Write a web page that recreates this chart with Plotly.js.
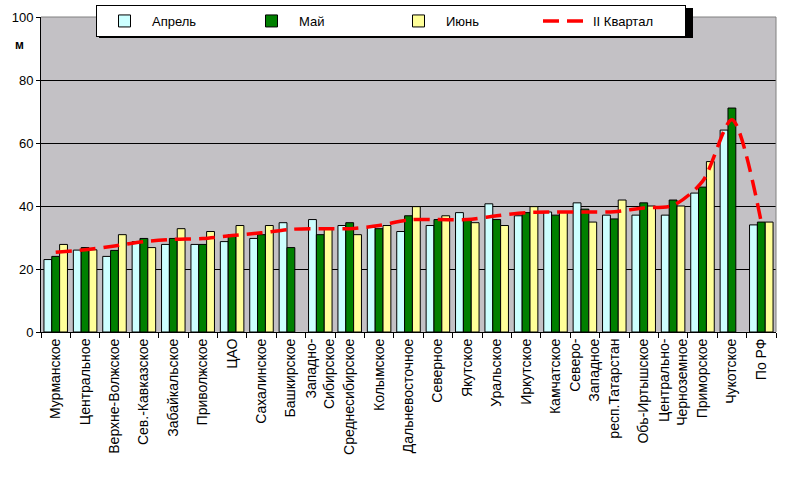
<!DOCTYPE html>
<html>
<head>
<meta charset="utf-8">
<script src="https://cdn.plot.ly/plotly-3.0.1.min.js"></script>
<style>html,body{margin:0;padding:0;background:#fff;}#chart{width:800px;height:479px;}</style>
</head>
<body>
<div id="chart"></div>
<script>
const categories = ["Мурманское","Центральное","Верхне-Волжское","Сев.-Кавказское","Забайкальское","Приволжское","ЦАО","Сахалинское","Башкирское","Западно-<br>Сибирское","Среднесибирское","Колымское","Дальневосточное","Северное","Якутское","Уральское","Иркутское","Камчатское","Северо-<br>Западное","респ.Татарстан","Обь-Иртышское","Центрально-<br>Черноземное","Приморское","Чукотское","По РФ"];
const april = [23, 26, 24, 28.7, 27.8, 27.8, 28.7, 29.7, 34.7, 35.7, 33.8, 33.2, 31.9, 33.8, 37.9, 40.7, 36.9, 38.1, 41, 37.1, 37.1, 37.1, 44.1, 64.1, 34];
const may = [24, 26.8, 25.9, 29.7, 29.7, 27.8, 30.9, 30.9, 26.8, 30.9, 34.7, 32.8, 36.9, 35.7, 35.7, 35.7, 37.9, 37.1, 39, 35.9, 41, 41.9, 46, 71.1, 34.9];
const june = [27.8, 26.1, 30.9, 26.8, 32.8, 31.9, 33.8, 33.8, null, 32.8, 30.9, 33.8, 39.8, 36.9, 34.7, 33.8, 39.8, 38.1, 34.9, 41.9, 40, 40, 54.1, null, 34.9];
const quarter = [25.3, 26.1, 27.3, 28.7, 29.4, 29.7, 30.6, 31.5, 32.6, 32.8, 32.8, 33.8, 35.6, 35.7, 35.7, 36.9, 37.9, 38.1, 38.1, 38.2, 39.4, 40.2, 47.8, 67.4, 34.8];
const yTicks = [0, 20, 40, 60, 80, 100];
const seriesNames = ["Апрель", "Май", "Июнь", "II Квартал"];

const barLine = {color: "#000000", width: 1};
const traces = [
  {type: "bar", name: seriesNames[0], x: categories, y: april, marker: {color: "#CCFFFF", line: barLine}},
  {type: "bar", name: seriesNames[1], x: categories, y: may, marker: {color: "#008000", line: barLine}},
  {type: "bar", name: seriesNames[2], x: categories, y: june, marker: {color: "#FFFF99", line: barLine}},
  {type: "scatter", mode: "lines", name: seriesNames[3], x: categories, y: quarter,
   line: {color: "#FF0000", width: 3.5, dash: "16px,8px", shape: "spline", smoothing: 0.8}}
];

const W = 800, H = 479, L = 41, R = 24, T = 17, B = 147;
const pw = W - L - R, ph = H - T - B;
const px = v => (v - L) / pw;
const py = v => (H - B - v) / ph;

const layout = {
  width: W, height: H,
  margin: {l: L, r: R, t: T, b: B, pad: 0, autoexpand: false},
  paper_bgcolor: "#FFFFFF",
  plot_bgcolor: "#C3C1C5",
  font: {family: "Liberation Sans, Arial, sans-serif", size: 13, color: "#000000"},
  barmode: "group",
  bargap: 0.2,
  bargroupgap: 0,
  showlegend: true,
  legend: {
    orientation: "h", xref: "container", yref: "container",
    x: 96 / W, y: 1 - 5 / H, xanchor: "left", yanchor: "top",
    bgcolor: "#FFFFFF", bordercolor: "#000000", borderwidth: 1,
    itemwidth: 45,
    entrywidth: 87, entrywidthmode: "pixels",
    font: {size: 13}, traceorder: "normal", tracegroupgap: 0
  },
  xaxis: {
    type: "category", tickangle: -90, tickson: "boundaries",
    ticks: "outside", ticklen: 5, tickcolor: "#000000",
    showline: true, linecolor: "#000000", linewidth: 1,
    showgrid: false, zeroline: false, fixedrange: true, automargin: false,
    tickfont: {size: 14}
  },
  yaxis: {
    range: [0, 100], tickvals: yTicks, ticktext: yTicks.map(String),
    ticks: "outside", ticklen: 4, tickcolor: "#000000",
    showline: true, linecolor: "#000000", linewidth: 1,
    showgrid: true, gridcolor: "#000000", gridwidth: 1,
    zeroline: false, fixedrange: true, automargin: false,
    tickfont: {size: 13}
  },
  shapes: [
    {type: "line", xref: "paper", yref: "paper", x0: 0, x1: 1, y0: 1, y1: 1, line: {color: "#808080", width: 1}, layer: "above"},
    {type: "line", xref: "paper", yref: "paper", x0: 1, x1: 1, y0: 0, y1: 1, line: {color: "#808080", width: 1}, layer: "above"},
    {type: "rect", xref: "paper", yref: "paper", x0: px(99), x1: px(693), y0: py(38), y1: py(8), fillcolor: "#000000", line: {width: 0}, layer: "above"}
  ],
  annotations: [
    {text: "<b>м</b>", xref: "paper", yref: "paper", x: px(19), y: py(45), showarrow: false, xanchor: "center", yanchor: "middle", font: {size: 12, color: "#000000"}}
  ]
};

Plotly.newPlot("chart", traces, layout, {displayModeBar: false, staticPlot: true});
</script>
</body>
</html>
